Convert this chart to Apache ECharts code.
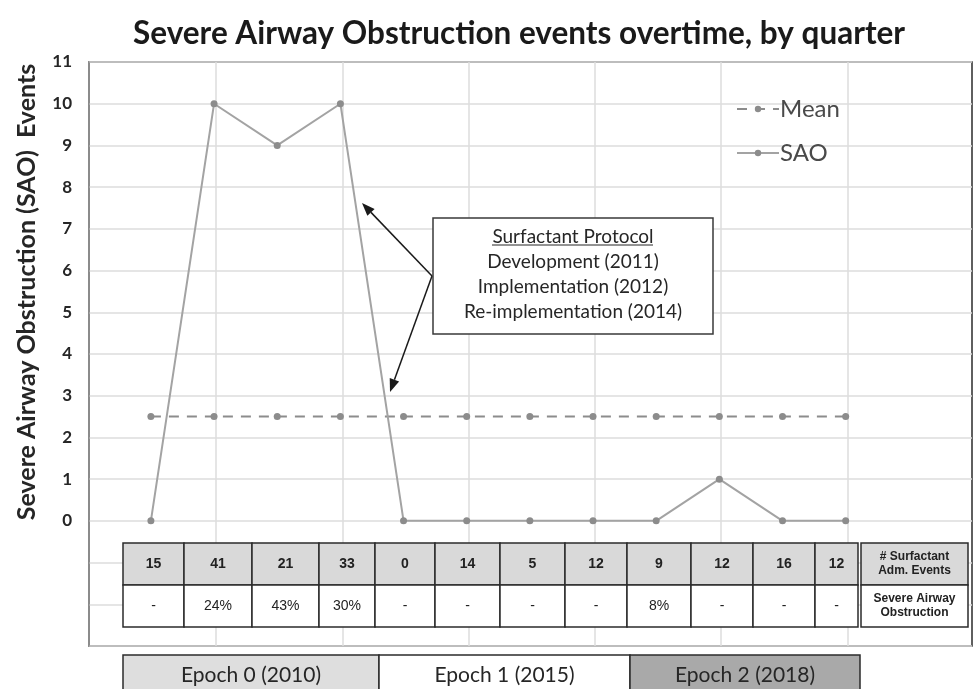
<!DOCTYPE html>
<html>
<head>
<meta charset="utf-8">
<script src="https://cdn.jsdelivr.net/npm/echarts@6/dist/echarts.min.js"></script>
<style>
  html, body { margin: 0; padding: 0; background: #fff; }
  #chart { width: 973px; height: 689px; }
</style>
</head>
<body>
<div id="chart"></div>
<script>
// --- data ---
const quarterIdx = [0, 1, 2, 3, 4, 5, 6, 7, 8, 9, 10, 11];
const saoEvents = [0, 10, 9, 10, 0, 0, 0, 0, 0, 1, 0, 0];
const meanEvents = [2.5, 2.5, 2.5, 2.5, 2.5, 2.5, 2.5, 2.5, 2.5, 2.5, 2.5, 2.5];
const surfactantCounts = ['15', '41', '21', '33', '0', '14', '5', '12', '9', '12', '16', '12'];
const saoRates = ['-', '24%', '43%', '30%', '-', '-', '-', '-', '8%', '-', '-', '-'];
const rowLabels = ['# Surfactant\nAdm. Events', 'Severe Airway\nObstruction'];
const epochLabels = ['Epoch 0 (2010)', 'Epoch 1 (2015)', 'Epoch 2 (2018)'];
const protocolLines = ['Development (2011)', 'Implementation (2012)', 'Re-implementation (2014)'];
const vGridAt = [1.03, 3.03, 5.03, 7.03, 9.03, 11.03];

// --- layout (pixels) ---
const colEdges = [123, 184, 252, 319, 375, 435, 500, 565, 627, 691, 753, 815, 858];
const labelCol = [861, 968];
const rowY = [543, 585, 627];
const epochEdges = [123, 379, 630, 860];
const epochFill = ['#dedede', '#ffffff', '#a9a9a9'];

const chart = echarts.init(document.getElementById('chart'));
const lato = 'Lato, "Open Sans", sans-serif';
const arial = '"Liberation Sans", Arial, sans-serif';

function arrow(x1, y1, x2, y2) {
  const a = Math.atan2(y2 - y1, x2 - x1), L = 13, W = 5;
  const bx = x2 - L * Math.cos(a), by = y2 - L * Math.sin(a);
  return [
    { type: 'line', shape: { x1: x1, y1: y1, x2: bx, y2: by }, style: { stroke: '#1a1a1a', lineWidth: 1.5 }, z: 100 },
    { type: 'polygon', shape: { points: [[x2, y2], [bx - W * Math.sin(a), by + W * Math.cos(a)], [bx + W * Math.sin(a), by - W * Math.cos(a)]] }, style: { fill: '#1a1a1a' }, z: 100 }
  ];
}

const graphics = [];
// y axis title
graphics.push({ type: 'text', x: 27, y: 292, rotation: Math.PI / 2, z: 100,
  style: { text: 'Severe Airway Obstruction (SAO)  Events', font: 'bold 25px ' + lato, fill: '#262626', align: 'center', verticalAlign: 'middle' } });

// table
for (let i = 0; i < surfactantCounts.length; i++) {
  const x0 = colEdges[i], w = colEdges[i + 1] - x0;
  graphics.push({ type: 'rect', shape: { x: x0, y: rowY[0], width: w, height: rowY[1] - rowY[0] }, style: { fill: '#d9d9d9', stroke: '#2b2b2b', lineWidth: 1.5 }, z: 90 });
  graphics.push({ type: 'rect', shape: { x: x0, y: rowY[1], width: w, height: rowY[2] - rowY[1] }, style: { fill: '#ffffff', stroke: '#2b2b2b', lineWidth: 1.5 }, z: 90 });
  graphics.push({ type: 'text', x: x0 + w / 2, y: (rowY[0] + rowY[1]) / 2, z: 95, style: { text: surfactantCounts[i], font: 'bold 14px ' + arial, fill: '#222', align: 'center', verticalAlign: 'middle' } });
  graphics.push({ type: 'text', x: x0 + w / 2, y: (rowY[1] + rowY[2]) / 2, z: 95, style: { text: saoRates[i], font: '14px ' + arial, fill: '#222', align: 'center', verticalAlign: 'middle' } });
}
for (let r = 0; r < 2; r++) {
  graphics.push({ type: 'rect', shape: { x: labelCol[0], y: rowY[r], width: labelCol[1] - labelCol[0], height: rowY[r + 1] - rowY[r] }, style: { fill: r === 0 ? '#d9d9d9' : '#ffffff', stroke: '#2b2b2b', lineWidth: 1.5 }, z: 90 });
  graphics.push({ type: 'text', x: (labelCol[0] + labelCol[1]) / 2, y: (rowY[r] + rowY[r + 1]) / 2, z: 95, style: { text: rowLabels[r], font: 'bold 12px ' + arial, lineHeight: 14, fill: '#222', align: 'center', verticalAlign: 'middle' } });
}

// epoch bar
for (let i = 0; i < epochLabels.length; i++) {
  const x0 = epochEdges[i], w = epochEdges[i + 1] - x0;
  graphics.push({ type: 'rect', shape: { x: x0, y: 655, width: w, height: 40 }, style: { fill: epochFill[i], stroke: '#2b2b2b', lineWidth: 1.5 }, z: 90 });
  graphics.push({ type: 'text', x: x0 + w / 2, y: 675, z: 95, style: { text: epochLabels[i], font: '21px ' + lato, fill: '#262626', align: 'center', verticalAlign: 'middle' } });
}

// annotation box
graphics.push({ type: 'rect', shape: { x: 433, y: 218, width: 280, height: 116 }, style: { fill: '#fff', stroke: '#3a3a3a', lineWidth: 1.5 }, z: 96 });
graphics.push({ type: 'text', x: 573, y: 237, z: 97, style: { text: 'Surfactant Protocol', font: '19px ' + lato, fill: '#262626', align: 'center', verticalAlign: 'middle' } });
graphics.push({ type: 'line', shape: { x1: 492, y1: 245, x2: 653, y2: 245 }, style: { stroke: '#262626', lineWidth: 1 }, z: 97 });
protocolLines.forEach(function (t, i) {
  graphics.push({ type: 'text', x: 573, y: 262 + i * 25, z: 97, style: { text: t, font: '19px ' + lato, fill: '#262626', align: 'center', verticalAlign: 'middle' } });
});
arrow(432, 276, 362, 203).forEach(function (g) { graphics.push(g); });
arrow(432, 276, 390, 392).forEach(function (g) { graphics.push(g); });

chart.setOption({
  animation: false,
  backgroundColor: '#fff',
  title: {
    text: 'Severe Airway Obstruction events overtime, by quarter',
    left: 128, top: 13,
    textStyle: { fontFamily: lato, fontWeight: 'bold', fontSize: 31.5, color: '#1a1a1a' }
  },
  legend: {
    orient: 'vertical', left: 731, top: 92, itemWidth: 42, itemHeight: 8, itemGap: 20,
    textStyle: { fontFamily: lato, fontSize: 24, color: '#4a4a4a', padding: [0, 0, 0, -4] },
    data: ['Mean', 'SAO']
  },
  grid: { left: 89, right: 1, top: 62, bottom: 43, show: true, borderColor: '#2b2b2b', borderWidth: 1.5 },
  xAxis: {
    type: 'value', min: -0.98, max: 13,
    axisLine: { show: false }, axisTick: { show: false }, axisLabel: { show: false }, splitLine: { show: false }
  },
  yAxis: {
    type: 'value', min: -3, max: 11, interval: 1,
    axisLine: { show: true, onZero: false, lineStyle: { color: '#9a9a9a', width: 1.5 } },
    axisTick: { show: false },
    axisLabel: { margin: 17, fontFamily: lato, fontWeight: 'bold', fontSize: 17, color: '#262626',
      formatter: function (v) { return v < 0 ? '' : String(v); } },
    splitLine: { lineStyle: { color: '#dcdcdc', width: 1.5 } }
  },
  series: [
    {
      name: 'Mean', type: 'line', data: quarterIdx.map(function (q, i) { return [q, meanEvents[i]]; }),
      symbol: 'circle', symbolSize: 7, z: 3,
      itemStyle: { color: '#8c8c8c' },
      lineStyle: { color: '#8c8c8c', width: 2, type: [10, 8] },
      markLine: {
        silent: true, symbol: 'none', label: { show: false },
        lineStyle: { color: '#dcdcdc', width: 1.5, type: 'solid' },
        data: vGridAt.map(function (x) { return [{ coord: [x, -3] }, { coord: [x, 11] }]; }),
        z: 1
      }
    },
    {
      name: 'SAO', type: 'line', data: quarterIdx.map(function (q, i) { return [q, saoEvents[i]]; }),
      symbol: 'circle', symbolSize: 7, z: 4,
      itemStyle: { color: '#8c8c8c' },
      lineStyle: { color: '#a3a3a3', width: 2 }
    }
  ],
  graphic: graphics
});
</script>
</body>
</html>
